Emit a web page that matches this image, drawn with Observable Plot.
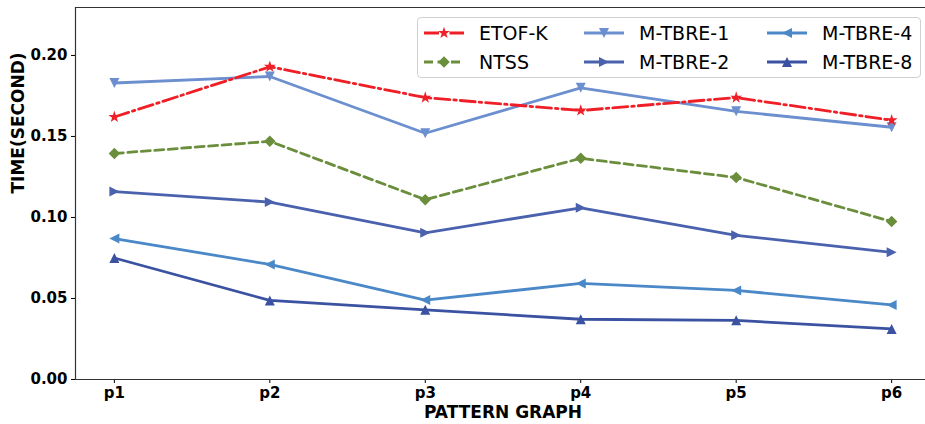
<!DOCTYPE html>
<html>
<head>
<meta charset="utf-8">
<script src="https://cdn.jsdelivr.net/npm/d3@7"></script>
<script src="https://cdn.jsdelivr.net/npm/@observablehq/plot@0.6"></script>
<style>
  html, body { margin: 0; padding: 0; background: #fff; overflow: hidden; }
  #wrap { position: relative; width: 925px; height: 424px; overflow: hidden; }
  #legend { position: absolute; left: 417px; top: 17px; width: 502px; height: 59px;
    border: 1px solid #d0d0d0; border-radius: 4px; background: rgba(255,255,255,0.8);
    font-family: "DejaVu Sans", sans-serif; font-size: 19px; color: #000; }
  .item { position: absolute; height: 24px; display: flex; align-items: center; }
  .item svg { display: block; }
  .item span { margin-left: 15px; white-space: nowrap; }
</style>
</head>
<body>
<div id="wrap"><div id="chart"></div><div id="legend"></div></div>
<script>
const categories = ["p1", "p2", "p3", "p4", "p5", "p6"];
const etofK  = [0.162, 0.193, 0.174, 0.166, 0.174, 0.160];
const ntss   = [0.1395, 0.147, 0.111, 0.1365, 0.1247, 0.0975];
const mtbre1 = [0.183, 0.187, 0.152, 0.180, 0.1655, 0.1557];
const mtbre2 = [0.116, 0.1095, 0.0905, 0.106, 0.089, 0.0785];
const mtbre4 = [0.087, 0.071, 0.049, 0.0593, 0.055, 0.046];
const mtbre8 = [0.075, 0.0488, 0.043, 0.0372, 0.0365, 0.0312];
const yTicks = [0, 0.05, 0.10, 0.15, 0.20];
const seriesNames = ["ETOF-K", "NTSS", "M-TBRE-1", "M-TBRE-2", "M-TBRE-4", "M-TBRE-8"];

// custom marker shapes (matplotlib-like)
function triangle(angle) {
  return {draw(ctx, size) {
    const r = Math.sqrt(size / Math.PI);
    const base = [[0, -r], [-r, r], [r, r]];
    const c = Math.cos(angle), s = Math.sin(angle);
    const pts = base.map(([x, y]) => [x * c - y * s, x * s + y * c]);
    ctx.moveTo(pts[0][0], pts[0][1]);
    ctx.lineTo(pts[1][0], pts[1][1]);
    ctx.lineTo(pts[2][0], pts[2][1]);
    ctx.closePath();
  }};
}
const star = {draw(ctx, size) {
  const R = Math.sqrt(size / Math.PI) * 1.25, ri = R * 0.382;
  for (let k = 0; k < 10; k++) {
    const a = -Math.PI / 2 + k * Math.PI / 5, rr = k % 2 ? ri : R;
    const x = rr * Math.cos(a), y = rr * Math.sin(a);
    if (k === 0) ctx.moveTo(x, y); else ctx.lineTo(x, y);
  }
  ctx.closePath();
}};
const diamond = {draw(ctx, size) {
  const r = Math.sqrt(size / Math.PI) * 1.15;
  ctx.moveTo(0, -r); ctx.lineTo(r, 0); ctx.lineTo(0, r); ctx.lineTo(-r, 0); ctx.closePath();
}};

const styles = [
  {color: "#ee1f27", dash: "15,4,2.5,4", symbol: star},
  {color: "#6a8e3b", dash: "9,4.5", symbol: diamond},
  {color: "#6b8fcf", dash: null, symbol: triangle(Math.PI)},
  {color: "#4a62ae", dash: null, symbol: triangle(Math.PI / 2)},
  {color: "#4a88c8", dash: null, symbol: triangle(-Math.PI / 2)},
  {color: "#3a52a1", dash: null, symbol: triangle(0)}
];
const seriesValues = [etofK, ntss, mtbre1, mtbre2, mtbre4, mtbre8];

const series = seriesNames.map((name, s) => ({
  name, ...styles[s],
  data: categories.map((c, i) => ({x: i + 1, y: seriesValues[s][i], cat: c}))
}));

const yMax = 0.2296;
const marks = [];
// spines
marks.push(Plot.ruleX([0.75], {stroke: "#333", strokeWidth: 1.2}));
marks.push(Plot.ruleY([0], {stroke: "#333", strokeWidth: 1.2}));
marks.push(Plot.ruleY([yMax], {stroke: "#333", strokeWidth: 1.2}));
// draw in reverse so ETOF-K on top
for (const s of series.slice().reverse()) {
  marks.push(Plot.line(s.data, {x: "x", y: "y", stroke: s.color, strokeWidth: 2.8,
    strokeDasharray: s.dash || undefined, strokeLinejoin: "round"}));
  marks.push(Plot.dot(s.data, {x: "x", y: "y", fill: s.color, stroke: "none", symbol: s.symbol, r: 5}));
}
marks.push(Plot.text(["TIME(SECOND)"], {frameAnchor: "left", lineAnchor: "middle", dx: -57, rotate: -90,
  fontSize: 17, fontWeight: "bold", fill: "#000"}));
marks.push(Plot.text(["PATTERN GRAPH"], {frameAnchor: "bottom", lineAnchor: "middle", dy: 33,
  fontSize: 17, fontWeight: "bold", fill: "#000"}));

const chart = Plot.plot({
  width: 925, height: 424,
  marginLeft: 75, marginRight: -5, marginTop: 7, marginBottom: 45,
  style: {fontFamily: "DejaVu Sans, sans-serif", fontSize: "15px", fontWeight: "bold", color: "#000", background: "#fff"},
  x: {domain: [0.75, 6.25], ticks: [1, 2, 3, 4, 5, 6], tickFormat: d => categories[d - 1],
      tickSize: 4, tickPadding: 4, label: null},
  y: {domain: [0, yMax], ticks: yTicks, tickFormat: d3.format(".2f"), tickSize: 4, tickPadding: 4, label: null},
  marks
});
document.getElementById("chart").appendChild(chart);

// legend
const legend = document.getElementById("legend");
const cols = [6, 166, 349];
const rows = [3, 32];
series.forEach((s, k) => {
  const col = Math.floor(k / 2), row = k % 2;
  const item = document.createElement("div");
  item.className = "item";
  item.style.left = cols[col] + "px";
  item.style.top = rows[row] + "px";
  const p = d3.path();
  s.symbol.draw(p, Math.PI * 25);
  item.innerHTML = `<svg width="40" height="20"><line x1="0" y1="10" x2="40" y2="10" stroke="${s.color}" stroke-width="2.8" ${s.dash ? `stroke-dasharray="${s.dash}"` : ""}/><path transform="translate(20,10)" d="${p.toString()}" fill="${s.color}"/></svg><span>${s.name}</span>`;
  legend.appendChild(item);
});
</script>
</body>
</html>
